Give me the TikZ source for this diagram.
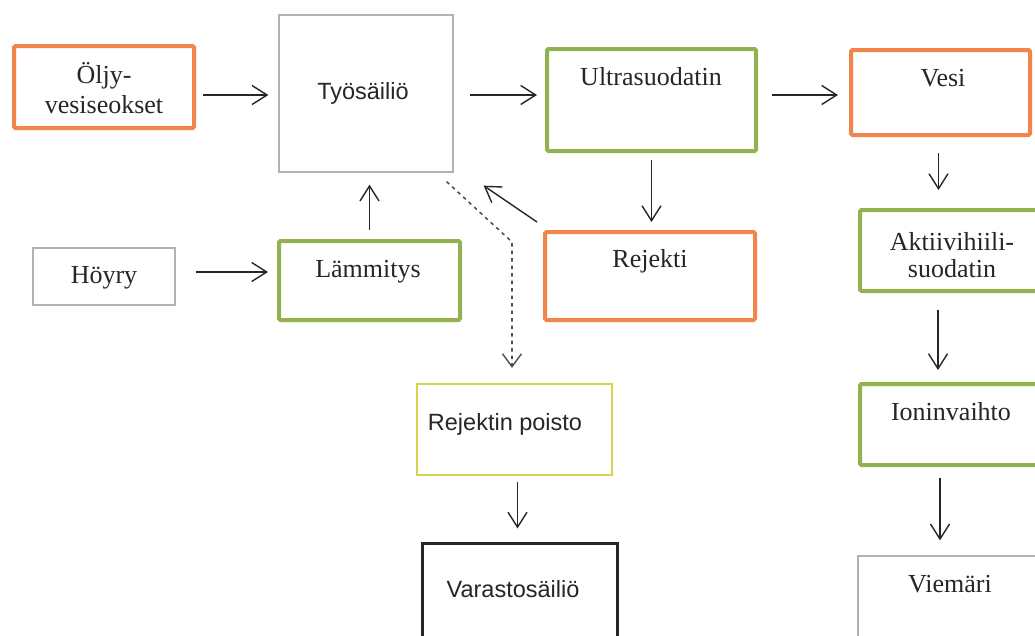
\documentclass[tikz,border=0pt]{standalone}
\usepackage{fontspec}
\setmainfont{Liberation Serif}
\newfontfamily\arialfont{Liberation Sans}
\usetikzlibrary{arrows.meta,fit}

\definecolor{boxorange}{RGB}{240,134,76}
\definecolor{boxgreen}{RGB}{146,178,80}
\definecolor{boxyellow}{RGB}{212,212,80}
\definecolor{boxgray}{RGB}{178,178,178}
\definecolor{inkdark}{RGB}{38,38,38}

\tikzset{
  panel/.style={draw, fill=white, inner sep=0pt},
  orangebox/.style={panel, draw=boxorange, line width=4pt, rounded corners=1.5pt},
  greenbox/.style={panel, draw=boxgreen, line width=4pt, rounded corners=1.5pt},
  graybox/.style={panel, draw=boxgray, line width=1.3pt},
  yellowbox/.style={panel, draw=boxyellow, line width=2.2pt},
  blackbox/.style={panel, draw=black!85, line width=3pt},
  serifbase/.style={font=\fontsize{26}{30}\selectfont, text=inkdark, inner sep=0pt},
  serif/.style={serifbase, text height=25pt, text depth=6pt},
  seriftwo/.style={serifbase, align=center},
  sans/.style={font=\arialfont\fontsize{23.5}{28}\selectfont, text=inkdark, inner sep=0pt,
               text height=21pt, text depth=5pt},
  flow/.style={draw=inkdark, line width=1.4pt,
               -{Straight Barb[length=15pt,width=19pt,line width=1.4pt]}},
  dashflow/.style={draw=inkdark!80, line width=1.6pt, dash pattern=on 3.5pt off 4pt,
               -{Straight Barb[length=13pt,width=19pt,line width=1.4pt]}},
}

\begin{document}
\begin{tikzpicture}[x=1pt,y=-1pt]
\useasboundingbox (0,0) rectangle (1035,635);
\clip (0,0) rectangle (1035,635);
\fill[white] (0,0) rectangle (1035,635);

% process boxes
\node[orangebox, fit={(14,46)(194,128)}]   (olj)   {};
\node[graybox,   fit={(279,15)(453,172)}]  (tyo)   {};
\node[greenbox,  fit={(547,49)(756,151)}]  (ultra) {};
\node[orangebox, fit={(851,50)(1030,135)}] (vesi)  {};
\node[orangebox, fit={(545,232)(755,320)}] (rej)   {};
\node[graybox,   fit={(33,248)(175,305)}]  (hoyry) {};
\node[greenbox,  fit={(279,241)(460,320)}] (lamm)  {};
\node[greenbox,  fit={(860,210)(1050,291)}] (akt)  {};
\node[greenbox,  fit={(860,384)(1050,465)}] (ioni) {};
\node[yellowbox, fit={(417,384)(612,475)}] (rejp)  {};
\node[blackbox,  fit={(422,543)(617,660)}] (varasto) {};
\node[graybox,   fit={(858,556)(1050,660)}] (viem) {};

% box texts
\node[seriftwo] (toljy) at (104,88)  {Öljy-\\vesiseokset};
\node[sans]  (ttyo)   at (363,91)  {Työsäiliö};
\node[serif] (tultra) at (651,76)  {Ultrasuodatin};
\node[serif] (tvesi)  at (943,77)  {Vesi};
\node[serif] (trej)   at (650,258) {Rejekti};
\node[serif] (thoyry) at (104,274) {Höyry};
\node[serif] (tlamm)  at (368,268) {Lämmitys};
\node[seriftwo, font=\fontsize{26}{27}\selectfont] (takt) at (952,255) {Aktiivihiili-\\suodatin};
\node[serif] (tioni)  at (951,411) {Ioninvaihto};
\node[sans]  (trejp)  at (505,422) {Rejektin poisto};
\node[sans]  (tvar)   at (513,589) {Varastosäiliö};
\node[serif] (tviem)  at (950,583) {Viemäri};

% main flow
\draw[flow, shorten <=7pt, shorten >=10pt]
  ([yshift=-8pt]olj.east) -- ([yshift=-8pt]olj.east -| tyo.west);
\draw[flow, shorten <=16pt, shorten >=8pt]
  ([yshift=-1.5pt]tyo.east) -- ([yshift=-1.5pt]tyo.east -| ultra.west);
\draw[flow, shorten <=14pt, shorten >=11pt]
  ([yshift=5pt]ultra.east) -- ([yshift=5pt]ultra.east -| vesi.west);
\draw[flow, shorten <=7pt, shorten >=8pt]
  (ultra.south) -- (ultra.south |- rej.north);
\draw[flow]
  ([xshift=-6pt,yshift=8pt]rej.north west) -- ([xshift=30pt,yshift=-13pt]tyo.south east);
\draw[flow, shorten <=9pt, shorten >=12pt]
  (lamm.north) -- (lamm.north |- tyo.south);
\draw[flow, shorten <=20pt, shorten >=9pt]
  ([yshift=4.5pt]hoyry.east) -- ([yshift=4.5pt]hoyry.east -| lamm.west);

% reject removal path
\coordinate (bend) at (512,242);
\draw[dashflow, shorten >=15pt]
  ([xshift=-7pt,yshift=-9pt]tyo.south east) -- (bend) -- (bend |- rejp.north);
\draw[flow, shorten <=6pt, shorten >=13pt]
  ([xshift=3pt]rejp.south) -- ([xshift=3pt]rejp.south |- varasto.north);

% water treatment chain
\draw[flow, shorten <=16pt, shorten >=18pt]
  ([xshift=-2pt]vesi.south) -- ([xshift=-2pt]vesi.south |- akt.north);
\draw[flow, shorten <=17pt, shorten >=12pt]
  (938,0 |- akt.south) -- (938,0 |- ioni.north);
\draw[flow, shorten <=11pt, shorten >=15pt]
  (940,0 |- ioni.south) -- (940,0 |- viem.north);
\end{tikzpicture}
\end{document}
